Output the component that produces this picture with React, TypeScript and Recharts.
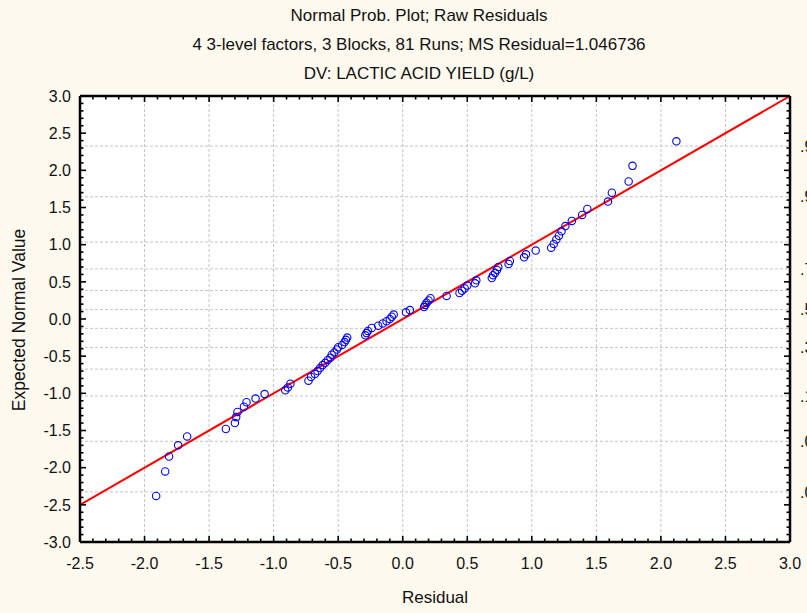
import React from 'react';
import { ScatterChart, Scatter, XAxis, YAxis, ReferenceLine, CartesianGrid } from 'recharts';

// Sorted raw residuals and their expected normal values (one pair per run)
const residuals = [
  -1.91, -1.84, -1.81, -1.74, -1.67, -1.37, -1.3, -1.29, -1.28, -1.23,
  -1.21, -1.14, -1.07, -0.91, -0.89, -0.87, -0.73, -0.71, -0.68, -0.66,
  -0.64, -0.62, -0.6, -0.58, -0.56, -0.55, -0.53, -0.51, -0.5, -0.47,
  -0.45, -0.44, -0.43, -0.29, -0.28, -0.27, -0.24, -0.19, -0.155, -0.125,
  -0.1, -0.085, -0.07, 0.025, 0.055, 0.165, 0.175, 0.185, 0.2, 0.215,
  0.34, 0.44, 0.46, 0.48, 0.5, 0.56, 0.57, 0.69, 0.7, 0.715,
  0.73, 0.74, 0.82, 0.83, 0.94, 0.955, 1.03, 1.15, 1.17, 1.19,
  1.21, 1.23, 1.26, 1.31, 1.39, 1.43, 1.59, 1.62, 1.75, 1.78, 2.12,
];

const expectedNormal = [
  -2.38, -2.05, -1.85, -1.7, -1.58, -1.48, -1.4, -1.32, -1.25, -1.18,
  -1.12, -1.07, -1.01, -0.96, -0.92, -0.87, -0.83, -0.78, -0.74, -0.7,
  -0.66, -0.62, -0.59, -0.55, -0.52, -0.48, -0.45, -0.41, -0.38, -0.35,
  -0.31, -0.28, -0.25, -0.22, -0.19, -0.16, -0.12, -0.09, -0.06, -0.03,
  0.0, 0.03, 0.06, 0.09, 0.12, 0.16, 0.19, 0.22, 0.25, 0.28,
  0.31, 0.35, 0.38, 0.41, 0.45, 0.48, 0.52, 0.55, 0.59, 0.62,
  0.66, 0.7, 0.74, 0.78, 0.83, 0.87, 0.92, 0.96, 1.01, 1.07,
  1.12, 1.18, 1.25, 1.32, 1.4, 1.48, 1.58, 1.7, 1.85, 2.06, 2.39,
];

// Axis tick values
const xMajorTicks = [-2.5, -2.0, -1.5, -1.0, -0.5, 0.0, 0.5, 1.0, 1.5, 2.0, 2.5, 3.0];
const yMajorTicks = [-3.0, -2.5, -2.0, -1.5, -1.0, -0.5, 0.0, 0.5, 1.0, 1.5, 2.0, 2.5, 3.0];

// Probability scale on the right: cumulative level and its normal quantile
const probLevels = ['.01', '.05', '.15', '.25', '.35', '.45', '.55', '.65', '.75', '.85', '.95', '.99'];
const probQuantiles = [-2.326, -1.645, -1.036, -0.674, -0.385, -0.126, 0.126, 0.385, 0.674, 1.036, 1.645, 2.326];
const probLabelled = ['.01', '.05', '.15', '.35', '.55', '.75', '.95', '.99'];

// Reference line endpoints
const fitLine = [
  { x: -2.5, y: -2.5 },
  { x: 3.0, y: 3.0 },
];

const titleLines = [
  'Normal Prob. Plot; Raw Residuals',
  '4 3-level factors, 3 Blocks, 81 Runs; MS Residual=1.046736',
  'DV: LACTIC ACID YIELD (g/L)',
];
const xTitle = 'Residual';
const yTitle = 'Expected Normal Value';

const W = 807;
const H = 613;
const FONT = 'Arial, "Liberation Sans", sans-serif';
const BG = '#fef9ee';
const GRID = '#c4c4c4';

const points = residuals.map((r, i) => ({ x: r, y: expectedNormal[i] }));

// Minor ticks every tenth between consecutive major ticks
const withMinors = (majors: number[]) => {
  const out: number[] = [];
  majors.forEach((m, i) => {
    if (i === majors.length - 1) {
      out.push(m);
      return;
    }
    for (let k = 0; k < 5; k++) out.push(Math.round((m + k * 0.1) * 10) / 10);
  });
  return out;
};
const xTicks = withMinors(xMajorTicks);
const yTicks = withMinors(yMajorTicks);

const isMajor = (v: number) => Math.abs(v * 2 - Math.round(v * 2)) < 1e-6;
const fmt = (v: number) => (Math.abs(v) < 1e-9 ? 0 : v).toFixed(1);
const tickLen = (v: number) => (isMajor(v) ? 6 : 3.5);

const BottomTick = (props: any) => {
  const { x, y, payload } = props;
  const v = payload.value;
  return (
    <g>
      <line x1={x} x2={x} y1={y} y2={y - tickLen(v)} stroke="#000" strokeWidth={1.6} />
      {isMajor(v) && (
        <text x={x} y={y + 27} textAnchor="middle" fontSize={16} fontFamily={FONT} fill="#111">
          {fmt(v)}
        </text>
      )}
    </g>
  );
};

const TopTick = (props: any) => {
  const { x, y, payload } = props;
  return <line x1={x} x2={x} y1={y} y2={y + tickLen(payload.value)} stroke="#000" strokeWidth={1.6} />;
};

const LeftTick = (props: any) => {
  const { x, y, payload } = props;
  const v = payload.value;
  return (
    <g>
      <line x1={x} x2={x + tickLen(v)} y1={y} y2={y} stroke="#000" strokeWidth={1.6} />
      {isMajor(v) && (
        <text x={x - 9} y={y + 5.8} textAnchor="end" fontSize={16} fontFamily={FONT} fill="#111">
          {fmt(v)}
        </text>
      )}
    </g>
  );
};

const RightTick = (props: any) => {
  const { x, y, payload } = props;
  return <line x1={x} x2={x - tickLen(payload.value)} y1={y} y2={y} stroke="#000" strokeWidth={1.6} />;
};

export default function App() {
  return (
    <div style={{ position: 'absolute', left: 0, top: 0, width: W, height: H, background: BG, overflow: 'hidden' }}>
      <ScatterChart width={W} height={H} margin={{ top: 95, right: 16, bottom: 70, left: 79 }}>
        <CartesianGrid fill="#ffffff" horizontal={false} vertical={false} stroke="none" />
        <XAxis
          xAxisId="b"
          dataKey="x"
          type="number"
          domain={[-2.5, 3]}
          ticks={xTicks}
          interval={0}
          height={1}
          tickSize={0}
          tickMargin={0}
          tick={<BottomTick />}
          tickLine={false}
          axisLine={{ stroke: '#000', strokeWidth: 2.5 }}
          allowDataOverflow
        />
        <XAxis
          xAxisId="t"
          orientation="top"
          dataKey="x"
          type="number"
          domain={[-2.5, 3]}
          ticks={xTicks}
          interval={0}
          height={1}
          tickSize={0}
          tickMargin={0}
          tick={<TopTick />}
          tickLine={false}
          axisLine={{ stroke: '#000', strokeWidth: 2.5 }}
          allowDataOverflow
        />
        <YAxis
          yAxisId="l"
          dataKey="y"
          type="number"
          domain={[-3, 3]}
          ticks={yTicks}
          interval={0}
          width={1}
          tickSize={0}
          tickMargin={0}
          tick={<LeftTick />}
          tickLine={false}
          axisLine={{ stroke: '#000', strokeWidth: 2.5 }}
          allowDataOverflow
        />
        <YAxis
          yAxisId="r"
          orientation="right"
          dataKey="y"
          type="number"
          domain={[-3, 3]}
          ticks={yTicks}
          interval={0}
          width={1}
          tickSize={0}
          tickMargin={0}
          tick={<RightTick />}
          tickLine={false}
          axisLine={{ stroke: '#000', strokeWidth: 2.5 }}
          allowDataOverflow
        />
        {xMajorTicks.slice(1, -1).map((v) => (
          <ReferenceLine
            key={`vx${v}`}
            xAxisId="b"
            yAxisId="l"
            x={v}
            stroke={GRID}
            strokeDasharray="3 2"
            strokeWidth={1}
          />
        ))}
        {probQuantiles.map((z, i) => (
          <ReferenceLine
            key={`hp${i}`}
            xAxisId="b"
            yAxisId="l"
            y={z}
            stroke={GRID}
            strokeDasharray="3 2"
            strokeWidth={1}
            label={
              probLabelled.includes(probLevels[i])
                ? { value: probLevels[i], position: 'right', offset: 10, fill: '#111', fontSize: 16, fontFamily: FONT }
                : undefined
            }
          />
        ))}
        <ReferenceLine
          xAxisId="b"
          yAxisId="l"
          segment={fitLine}
          stroke="#ff0000"
          strokeWidth={2}
          ifOverflow="visible"
        />
        <Scatter
          xAxisId="b"
          yAxisId="l"
          data={points}
          isAnimationActive={false}
          shape={(p: any) => <circle cx={p.cx} cy={p.cy} r={3.7} fill="none" stroke="#0000ff" strokeWidth={1.1} />}
        />
        <Scatter xAxisId="t" yAxisId="r" data={[]} isAnimationActive={false} />
      </ScatterChart>
      <svg
        width={W}
        height={H}
        style={{ position: 'absolute', left: 0, top: 0, pointerEvents: 'none' }}
        fontFamily={FONT}
        fill="#111"
      >
        {titleLines.map((t, i) => (
          <text key={t} x={419} y={21 + i * 29} textAnchor="middle" fontSize={17}>
            {t}
          </text>
        ))}
        <text x={435} y={603} textAnchor="middle" fontSize={17}>
          {xTitle}
        </text>
        <text x={25} y={320} textAnchor="middle" fontSize={17.5} transform="rotate(-90 25 320)">
          {yTitle}
        </text>
      </svg>
    </div>
  );
}
